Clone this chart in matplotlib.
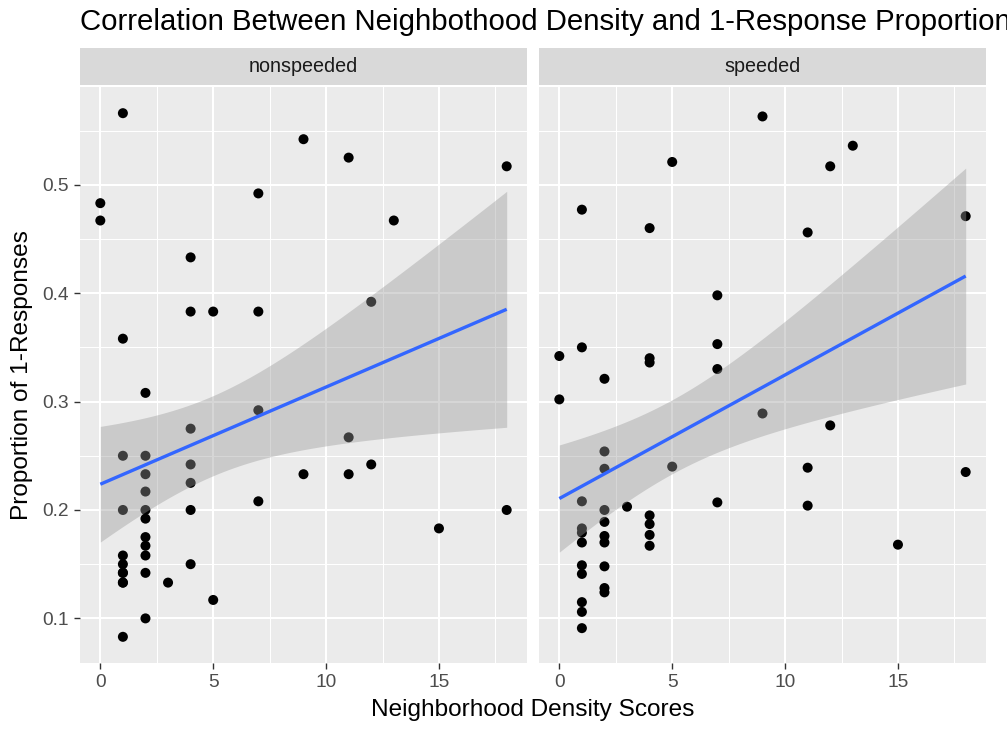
import numpy as np
import matplotlib
matplotlib.use("Agg")
import matplotlib.pyplot as plt

plt.rcParams['font.family'] = ['Liberation Sans', 'DejaVu Sans']

# ---------------- data ----------------
panels = ["nonspeeded", "speeded"]

ns_density = [0, 0,
              1, 1, 1, 1, 1, 1, 1, 1, 1, 1, 1,
              2, 2, 2, 2, 2, 2, 2, 2, 2, 2, 2,
              3,
              4, 4, 4, 4, 4, 4, 4,
              5, 5,
              7, 7, 7, 7,
              9, 9,
              11, 11, 11,
              12, 12,
              13,
              15,
              18, 18]
ns_prop = [0.483, 0.467,
           0.566, 0.358, 0.250, 0.200, 0.158, 0.150, 0.142, 0.142, 0.133, 0.133, 0.083,
           0.308, 0.250, 0.233, 0.217, 0.200, 0.192, 0.175, 0.167, 0.158, 0.142, 0.100,
           0.133,
           0.433, 0.383, 0.275, 0.242, 0.225, 0.200, 0.150,
           0.383, 0.117,
           0.492, 0.383, 0.292, 0.208,
           0.542, 0.233,
           0.525, 0.267, 0.233,
           0.392, 0.242,
           0.467,
           0.183,
           0.517, 0.200]

sp_density = [0, 0,
              1, 1, 1, 1, 1, 1, 1, 1, 1, 1, 1,
              2, 2, 2, 2, 2, 2, 2, 2, 2, 2,
              3,
              4, 4, 4, 4, 4, 4, 4,
              5, 5,
              7, 7, 7, 7,
              9, 9,
              11, 11, 11,
              12, 12,
              13,
              15,
              18, 18]
sp_prop = [0.342, 0.302,
           0.477, 0.350, 0.208, 0.183, 0.179, 0.170, 0.149, 0.141, 0.115, 0.106, 0.091,
           0.321, 0.254, 0.238, 0.200, 0.189, 0.176, 0.170, 0.148, 0.128, 0.124,
           0.203,
           0.460, 0.340, 0.336, 0.195, 0.187, 0.177, 0.167,
           0.521, 0.240,
           0.398, 0.353, 0.330, 0.207,
           0.563, 0.289,
           0.456, 0.239, 0.204,
           0.517, 0.278,
           0.536,
           0.168,
           0.471, 0.235]

x_ticks = [0, 5, 10, 15]
y_ticks = [0.1, 0.2, 0.3, 0.4, 0.5]

title = "Correlation Between Neighbothood Density and 1-Response Proportion"
x_label = "Neighborhood Density Scores"
y_label = "Proportion of 1-Responses"

T_CRIT = 2.012  # 95% two-sided t quantile for ~46 df

# ---------------- layout ----------------
W, H = 1007, 729
fig = plt.figure(figsize=(W / 100, H / 100), dpi=100)
fig.patch.set_facecolor("white")

def fx(px):
    return px / W

def fy(py):
    return 1 - py / H

panel_top, panel_bot = 87, 663
lefts = [80, 539]
pw = 447

all_x = ns_density + sp_density
all_y = ns_prop + sp_prop
xr = max(all_x) - min(all_x)
yr = max(all_y) - min(all_y)
xlim = (min(all_x) - 0.05 * xr, max(all_x) + 0.05 * xr)
ylim = (min(all_y) - 0.05 * yr, max(all_y) + 0.05 * yr)

data = [(ns_density, ns_prop), (sp_density, sp_prop)]

for i, (name, (xs, ys)) in enumerate(zip(panels, data)):
    ax = fig.add_axes([fx(lefts[i]), fy(panel_bot), fx(pw), (panel_bot - panel_top) / H])
    ax.set_facecolor("#EBEBEB")
    for s in ax.spines.values():
        s.set_visible(False)
    ax.set_xlim(*xlim)
    ax.set_ylim(*ylim)
    ax.set_xticks(x_ticks)
    ax.set_yticks(y_ticks)
    ax.set_xticks([2.5, 7.5, 12.5, 17.5], minor=True)
    ax.set_yticks([0.15, 0.25, 0.35, 0.45, 0.55], minor=True)
    ax.grid(which="major", color="white", lw=1.5)
    ax.grid(which="minor", color="white", lw=0.75)
    ax.set_axisbelow(True)
    ax.tick_params(which="minor", length=0)
    ax.tick_params(which="major", length=4.5, width=1.0, color="#333333",
                   labelcolor="#4D4D4D", labelsize=13.8, pad=3.4)
    ax.set_xticklabels([str(t) for t in x_ticks])
    if i == 0:
        ax.set_yticklabels([f"{t:.1f}" for t in y_ticks])
    else:
        ax.tick_params(axis="y", left=False, labelleft=False)

    xa = np.array(xs, dtype=float)
    ya = np.array(ys, dtype=float)
    ax.scatter(xa, ya, s=52, color="black", edgecolors="none", zorder=3)

    # linear fit with 95% confidence band
    n = len(xa)
    b1, b0 = np.polyfit(xa, ya, 1)
    resid = ya - (b0 + b1 * xa)
    s_err = np.sqrt(np.sum(resid ** 2) / (n - 2))
    sxx = np.sum((xa - xa.mean()) ** 2)
    xg = np.linspace(xa.min(), xa.max(), 80)
    yg = b0 + b1 * xg
    se = s_err * np.sqrt(1 / n + (xg - xa.mean()) ** 2 / sxx)
    ax.fill_between(xg, yg - T_CRIT * se, yg + T_CRIT * se, color="#999999",
                    alpha=0.4, lw=0, zorder=4)
    ax.plot(xg, yg, color="#3366FF", lw=2.4, zorder=5, solid_capstyle="butt")

    # strip
    sax = fig.add_axes([fx(lefts[i]), fy(85), fx(pw), 37 / H])
    sax.set_facecolor("#D9D9D9")
    sax.set_xticks([])
    sax.set_yticks([])
    for s in sax.spines.values():
        s.set_visible(False)
    sax.text(0.5, 0.5, name, ha="center", va="center", fontsize=14.2,
             color="#1A1A1A", transform=sax.transAxes)

fig.text(fx(80), fy(30), title, ha="left", va="baseline", fontsize=21.2, color="black")
fig.text(fx(533), fy(716), x_label, ha="center", va="baseline", fontsize=17.6, color="black")
fig.text(fx(22), fy(375), y_label, ha="center", va="center", rotation=90,
         fontsize=17.6, color="black")

fig.savefig("out.png", dpi=100)
